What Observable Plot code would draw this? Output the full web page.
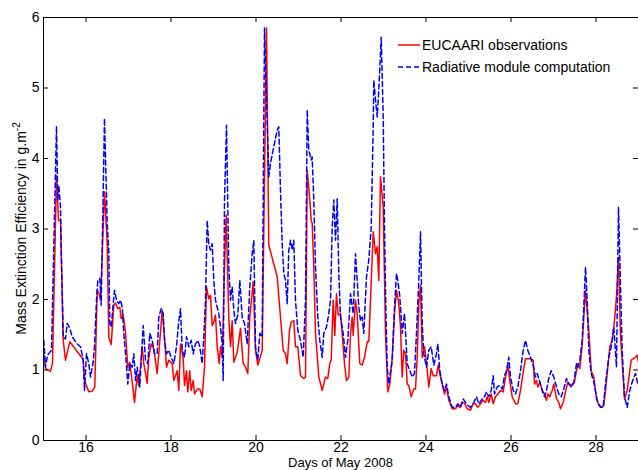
<!DOCTYPE html>
<html>
<head>
<meta charset="utf-8">
<script src="https://cdn.jsdelivr.net/npm/d3@7"></script>
<script src="https://cdn.jsdelivr.net/npm/@observablehq/plot@0.6"></script>
<style>
  body { margin: 0; background: #fff; }
  #chart { width: 638px; height: 470px; }
</style>
</head>
<body>
<div id="chart"></div>
<script>
// ---------- data ----------
const seriesNames = ["EUCAARI observations", "Radiative module computation"];
const xLabel = "Days of May 2008";
const yLabel = "Mass Extinction Efficiency in g.m";
const yLabelExponent = "-2";
const xTicks = [16, 18, 20, 22, 24, 26, 28];
const yTicks = [0, 1, 2, 3, 4, 5, 6];

// EUCAARI observations (day of May 2008, value)
const obsDays = [
  15.007,15.047,15.118,15.165,15.212,15.306,15.353,15.400,15.464,15.518,
  15.619,15.934,15.965,16.066,16.146,16.207,16.264,16.301,16.341,16.435,
  16.499,16.536,16.593,16.654,16.694,16.748,16.795,16.828,16.875,16.929,
  16.984,17.031,17.087,17.141,17.205,17.242,17.282,17.322,17.360,17.440,
  17.478,17.534,17.595,17.675,17.713,17.793,17.847,17.894,17.948,18.028,
  18.066,18.146,18.184,18.224,18.287,18.318,18.365,18.395,18.442,18.475,
  18.522,18.553,18.616,18.678,18.734,18.788,18.835,18.889,18.929,18.969,
  19.007,19.047,19.087,19.134,19.165,19.205,19.259,19.299,19.360,19.400,
  19.440,19.478,19.558,19.635,19.699,19.753,19.807,19.854,19.934,19.988,
  20.042,20.089,20.146,20.247,20.301,20.499,20.640,20.694,20.734,20.788,
  20.828,20.889,20.929,20.984,21.047,21.125,21.165,21.205,21.266,21.299,
  21.322,21.360,21.400,21.478,21.558,21.635,21.689,21.736,21.769,21.816,
  21.854,21.894,21.934,21.988,22.028,22.082,22.129,22.184,22.224,22.264,
  22.287,22.341,22.381,22.442,22.499,22.553,22.616,22.654,22.694,22.758,
  22.812,22.852,22.889,22.929,22.993,23.047,23.101,23.148,23.205,23.259,
  23.306,23.360,23.400,23.440,23.478,23.518,23.558,23.595,23.652,23.713,
  23.753,23.793,23.831,23.871,23.911,23.965,24.012,24.066,24.122,24.169,
  24.247,24.287,24.325,24.381,24.435,24.482,24.536,24.616,24.694,24.748,
  24.795,24.852,24.906,24.969,25.047,25.111,25.165,25.219,25.282,25.346,
  25.400,25.440,25.478,25.534,25.581,25.635,25.689,25.753,25.816,25.871,
  25.925,25.972,26.028,26.106,26.160,26.224,26.287,26.341,26.459,26.522,
  26.553,26.600,26.631,26.678,26.734,26.788,26.835,26.866,26.913,26.969,
  27.007,27.071,27.125,27.165,27.228,27.282,27.336,27.384,27.440,27.494,
  27.541,27.572,27.619,27.675,27.713,27.753,27.831,27.887,27.948,28.012,
  28.066,28.146,28.184,28.224,28.278,28.325,28.381,28.435,28.482,28.529,
  28.576,28.671,28.734,28.828,28.929,28.969,29.000
];
const obsValues = [
  1.21,1.02,1.00,0.98,1.10,3.76,3.12,3.12,1.42,1.14,
  1.40,1.15,0.85,0.69,0.70,0.76,2.13,2.10,1.99,3.53,
  2.80,1.47,1.36,1.92,1.95,1.87,1.89,1.73,1.78,1.54,
  1.04,1.11,0.83,0.54,0.92,0.78,1.04,1.33,1.09,0.81,
  1.18,1.37,1.30,0.95,1.23,1.85,1.47,1.04,1.14,1.09,
  0.85,0.99,0.71,1.37,1.16,0.78,0.99,0.69,0.99,0.71,
  0.85,0.66,0.73,0.73,0.62,1.04,2.18,2.01,2.06,1.63,
  1.68,1.78,1.33,1.09,1.33,1.18,2.46,3.20,1.73,1.33,
  1.70,1.11,1.25,1.59,1.09,1.04,0.95,1.75,2.25,1.28,
  1.07,1.16,1.28,5.85,2.77,2.32,1.28,1.23,1.09,1.56,
  1.68,1.70,1.33,1.33,0.92,0.88,0.90,3.83,3.41,3.12,
  3.08,2.46,1.52,0.90,0.71,0.90,0.88,1.09,1.14,1.99,
  1.49,2.08,1.78,1.80,1.52,1.09,0.85,0.90,1.52,1.75,
  1.49,1.99,1.80,1.09,1.07,1.18,1.40,1.40,1.99,2.96,
  2.65,2.75,2.27,3.74,3.31,1.52,0.69,0.80,1.18,1.80,
  2.13,1.94,1.61,0.90,1.28,1.23,0.80,0.78,0.62,0.73,
  0.73,1.18,1.94,2.20,1.18,1.33,1.09,0.76,1.02,0.92,
  0.92,1.07,0.95,0.80,0.66,0.76,0.57,0.45,0.45,0.50,
  0.47,0.54,0.53,0.45,0.43,0.52,0.52,0.47,0.52,0.57,
  0.54,0.62,0.54,0.66,0.52,0.62,0.66,0.71,0.69,0.90,
  1.07,0.85,0.62,0.52,0.52,0.71,0.97,1.16,1.16,1.14,
  0.80,0.85,0.76,0.83,0.71,0.66,0.57,0.66,0.62,0.71,
  0.80,0.59,0.54,0.45,0.54,0.69,0.83,0.80,0.78,0.83,
  0.99,1.09,1.02,1.35,1.75,2.13,1.56,0.99,0.90,0.59,
  0.50,0.47,0.50,0.71,1.04,1.33,1.42,1.70,2.04,2.60,
  1.50,0.59,0.71,1.14,1.18,1.21,1.11
];

// Radiative module computation (day of May 2008, value)
const modDays = [
  15.007,15.047,15.094,15.148,15.188,15.306,15.336,15.360,15.400,15.416,
  15.464,15.518,15.558,15.619,15.675,15.793,15.871,15.934,15.965,16.012,
  16.066,16.106,16.169,16.200,16.247,16.278,16.325,16.358,16.435,16.499,
  16.536,16.560,16.593,16.640,16.671,16.718,16.772,16.812,16.852,16.889,
  16.953,16.984,17.031,17.087,17.125,17.165,17.205,17.266,17.299,17.346,
  17.400,17.454,17.501,17.558,17.612,17.675,17.713,17.769,17.816,17.847,
  17.894,17.948,18.005,18.066,18.129,18.184,18.224,18.264,18.318,18.365,
  18.419,18.475,18.522,18.576,18.631,18.678,18.734,18.772,18.812,18.852,
  18.889,18.929,18.969,19.007,19.047,19.087,19.125,19.165,19.205,19.228,
  19.259,19.306,19.360,19.400,19.440,19.478,19.518,19.572,19.619,19.675,
  19.729,19.793,19.854,19.911,19.949,19.988,20.042,20.089,20.146,20.200,
  20.301,20.341,20.419,20.499,20.536,20.576,20.616,20.654,20.694,20.734,
  20.772,20.812,20.852,20.889,20.929,20.984,21.047,21.111,21.165,21.205,
  21.242,21.299,21.322,21.360,21.400,21.454,21.501,21.558,21.595,21.659,
  21.713,21.753,21.793,21.831,21.871,21.911,21.948,21.988,22.052,22.106,
  22.160,22.224,22.287,22.341,22.381,22.419,22.459,22.499,22.536,22.600,
  22.654,22.711,22.758,22.772,22.812,22.852,22.889,22.946,22.993,23.024,
  23.054,23.087,23.125,23.205,23.259,23.306,23.336,23.384,23.440,23.494,
  23.558,23.619,23.675,23.729,23.776,23.831,23.871,23.911,23.948,24.012,
  24.066,24.122,24.184,24.247,24.278,24.325,24.381,24.435,24.482,24.536,
  24.616,24.694,24.748,24.812,24.875,24.929,24.984,25.047,25.125,25.188,
  25.242,25.322,25.376,25.424,25.478,25.534,25.581,25.612,25.675,25.736,
  25.793,25.847,25.894,25.948,25.988,26.052,26.106,26.160,26.224,26.287,
  26.341,26.395,26.459,26.522,26.576,26.616,26.678,26.734,26.788,26.835,
  26.889,26.945,27.007,27.071,27.125,27.181,27.242,27.306,27.360,27.416,
  27.478,27.541,27.572,27.619,27.675,27.713,27.753,27.793,27.831,27.887,
  27.948,28.028,28.106,28.169,28.224,28.301,28.360,28.419,28.482,28.529,
  28.616,28.671,28.734,28.795,28.852,28.929,28.984
];
const modValues = [
  1.42,1.04,1.21,1.25,1.28,4.46,3.41,3.62,3.31,2.75,
  1.47,1.44,1.66,1.59,1.47,1.37,1.33,1.14,0.71,1.23,
  1.09,0.90,1.11,1.33,1.99,2.27,2.30,1.92,4.57,3.08,
  2.70,1.66,1.61,1.94,2.13,1.99,1.94,1.99,1.89,1.52,
  1.07,0.80,1.09,1.04,1.23,0.85,1.04,0.76,1.14,1.63,
  1.14,1.09,1.52,1.42,1.23,1.23,1.75,1.87,1.80,1.42,
  1.23,1.28,1.18,1.09,1.33,1.70,1.87,1.28,1.18,1.47,
  1.33,1.42,1.23,1.37,1.42,1.33,1.09,1.47,1.99,3.12,
  2.79,2.70,2.79,2.27,1.99,1.89,1.80,1.61,1.37,0.85,
  3.41,4.47,2.46,1.99,2.18,1.85,1.66,1.78,2.27,1.75,
  1.66,1.37,2.18,2.65,2.84,1.33,1.14,1.52,1.47,5.85,
  3.74,3.93,4.17,4.40,4.45,3.55,2.79,2.37,2.27,1.94,
  2.70,2.84,2.70,2.84,1.99,1.56,1.42,1.18,1.99,4.69,
  4.12,3.98,4.02,3.41,2.46,1.75,1.42,1.18,1.52,1.61,
  1.80,1.99,3.03,3.41,2.84,3.43,2.37,1.75,1.52,1.18,
  1.42,2.08,1.80,2.65,2.27,1.89,1.70,1.75,1.52,2.32,
  2.56,3.03,4.45,5.11,4.83,4.59,4.97,5.72,4.60,3.00,
  1.90,1.04,0.80,1.14,1.89,2.37,2.27,2.04,1.52,1.80,
  1.09,0.99,0.90,0.95,1.52,2.27,2.96,1.66,1.23,1.04,
  1.28,1.33,1.07,1.23,1.37,0.99,0.80,0.71,0.80,0.62,
  0.47,0.47,0.52,0.47,0.59,0.54,0.50,0.47,0.54,0.62,
  0.52,0.59,0.62,0.69,0.62,0.71,0.92,0.66,0.76,0.78,
  0.73,0.92,0.99,1.18,0.90,0.71,0.66,0.76,0.99,1.28,
  1.42,1.28,1.18,1.07,0.90,0.95,0.83,0.71,0.62,0.71,
  0.88,0.99,0.90,0.76,0.66,0.62,0.73,0.88,0.80,0.76,
  0.83,1.09,1.04,1.14,1.42,1.89,2.46,1.99,1.28,0.95,
  0.83,0.57,0.47,0.47,0.80,1.18,1.33,1.61,1.04,3.31,
  1.28,0.62,0.47,0.71,0.83,0.95,0.80
];

// ---------- build ----------
if (obsDays.length !== obsValues.length || modDays.length !== modValues.length) {
  console.error("length mismatch", obsDays.length, obsValues.length, modDays.length, modValues.length);
}
const obs = obsDays.map((d, i) => ({day: d, value: obsValues[i]}));
const mod = modDays.map((d, i) => ({day: d, value: modValues[i]}));

const FONT = "'Liberation Sans', Arial, Helvetica, sans-serif";
const RED = "#ff0000", BLUE = "#0000ff";
const xDomain = [15, 29], yDomain = [0, 6];
const W = 638, H = 470, mL = 43, mR = 0, mT = 17, mB = 30;
const tickPx = 5;
const xTickLen = tickPx * (yDomain[1] - yDomain[0]) / (H - mT - mB); // in y units
const yTickLen = tickPx * (xDomain[1] - xDomain[0]) / (W - mL - mR); // in x units

const svg = Plot.plot({
  width: W, height: H,
  marginLeft: mL, marginRight: mR, marginTop: mT, marginBottom: mB,
  style: {fontFamily: FONT, fontSize: "14px", background: "#fff", color: "#000", overflow: "visible"},
  x: {domain: xDomain},
  y: {domain: yDomain},
  marks: [
    Plot.line(obs, {x: "day", y: "value", stroke: RED, strokeWidth: 1.5}),
    Plot.line(mod, {x: "day", y: "value", stroke: BLUE, strokeWidth: 1.5, strokeDasharray: "5,3"}),
    Plot.frame({stroke: "#000", strokeWidth: 1}),
    // inward ticks on all four sides
    Plot.ruleX(xTicks, {x: d => d, y1: yDomain[0], y2: yDomain[0] + xTickLen, stroke: "#000"}),
    Plot.ruleX(xTicks, {x: d => d, y1: yDomain[1], y2: yDomain[1] - xTickLen, stroke: "#000"}),
    Plot.ruleY(yTicks, {y: d => d, x1: xDomain[0], x2: xDomain[0] + yTickLen, stroke: "#000"}),
    Plot.ruleY(yTicks, {y: d => d, x1: xDomain[1], x2: xDomain[1] - yTickLen, stroke: "#000"}),
    Plot.axisX({ticks: xTicks, tickSize: 0, tickPadding: 2, tickFormat: d3.format("d"), label: null, fontSize: 14}),
    Plot.axisY({ticks: yTicks, tickSize: 0, tickPadding: 4, tickFormat: d3.format("d"), label: null, fontSize: 14})
  ]
});

const s = d3.select(svg);
// x label
s.append("text")
  .attr("x", mL + (W - mL - mR) / 2).attr("y", 467)
  .attr("text-anchor", "middle")
  .attr("font-family", FONT).attr("font-size", 13).attr("fill", "#000")
  .text(xLabel);
// y label with superscript
const yl = s.append("text")
  .attr("transform", `translate(26,${mT + (H - mT - mB) / 2}) rotate(-90)`)
  .attr("text-anchor", "middle")
  .attr("font-family", FONT).attr("font-size", 14).attr("fill", "#000");
yl.append("tspan").text(yLabel);
yl.append("tspan").attr("dy", -6).attr("font-size", 10).text(yLabelExponent);

// legend (no box)
const legend = [
  {name: seriesNames[0], color: RED, dash: null, y: 45},
  {name: seriesNames[1], color: BLUE, dash: "5,3", y: 67}
];
for (const l of legend) {
  s.append("line").attr("x1", 398).attr("x2", 420).attr("y1", l.y).attr("y2", l.y)
    .attr("stroke", l.color).attr("stroke-width", 1.5)
    .attr("stroke-dasharray", l.dash);
  s.append("text").attr("x", 422).attr("y", l.y + 5)
    .attr("text-anchor", "start")
    .attr("font-family", FONT).attr("font-size", 14).attr("fill", "#000")
    .text(l.name);
}

document.getElementById("chart").appendChild(svg);
</script>
</body>
</html>
